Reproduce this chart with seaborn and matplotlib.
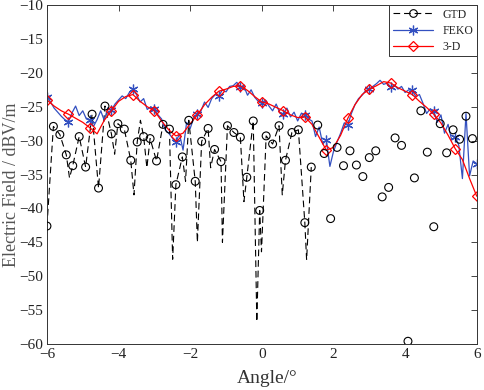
import numpy as np
import matplotlib.pyplot as plt
import seaborn as sns
from matplotlib.lines import Line2D

# GTD samples (circles), every 0.18 deg
gtd_x = np.round(np.arange(67) * 0.18 - 6, 2)
gtd_y = [-42.6, -27.9, -29.1, -32.1, -33.7, -29.4, -33.9, -26.1, -37.0, -24.9,
         -29.0, -27.5, -28.3, -32.9, -30.2, -29.4, -29.7, -33.0, -27.6, -28.3,
         -36.5, -32.4, -27.0, -36.0, -30.1, -28.2, -31.3, -33.1, -27.8, -28.8,
         -29.5, -35.4, -27.1, -40.3, -29.3, -30.5, -27.8, -32.9, -28.8, -28.4,
         -42.1, -33.9, -27.7, -31.9, -41.5, -31.0, -33.7, -31.5, -33.6, -35.3,
         -32.5, -31.5, -38.3, -36.9, -29.6, -30.7, -59.6, -35.5, -25.6, -31.7,
         -42.7, -27.5, -31.8, -28.4, -29.8, -26.4, -29.7]

# GTD dashed trace (only drawn up to ~1.4 deg), with the deep nulls
gtd_line_x = [-6.00, -5.82, -5.64, -5.46, -5.37, -5.28, -5.10, -4.92, -4.74, -4.56,
              -4.38, -4.20, -4.11, -4.02, -3.84, -3.66, -3.57, -3.48, -3.39, -3.30,
              -3.21, -3.12, -2.94, -2.76, -2.58, -2.49, -2.40, -2.22, -2.13, -2.04,
              -1.86, -1.80, -1.68, -1.50, -1.43, -1.32, -1.14, -1.10, -0.96, -0.78,
              -0.60, -0.50, -0.42, -0.24, -0.14, -0.06, -0.01, 0.12, 0.30, 0.48,
              0.57, 0.66, 0.84, 1.02, 1.20, 1.25, 1.38]
gtd_line_y = [-42.6, -27.9, -29.1, -32.1, -35.5, -33.7, -29.4, -33.9, -26.1, -37.0,
              -24.9, -29.0, -32.0, -27.5, -28.3, -32.9, -38.0, -30.2, -27.0, -29.4,
              -34.0, -29.7, -33.0, -27.6, -28.3, -47.5, -36.5, -32.4, -36.0, -27.0,
              -36.0, -45.0, -30.1, -28.2, -34.0, -31.3, -33.1, -45.0, -27.8, -28.8,
              -29.5, -39.0, -35.4, -27.1, -56.7, -40.3, -46.4, -29.3, -30.5, -27.8,
              -38.0, -32.9, -28.8, -28.4, -42.1, -47.6, -33.9]

# FEKO, every 0.1 deg
feko_x = np.round(np.arange(121) * 0.1 - 6, 1)
feko_y = [-23.5, -24.3, -25.2, -25.8, -26.4, -26.9, -27.2, -25.9, -24.9, -26.3,
          -25.6, -26.8, -27.0, -27.9, -26.9, -25.6, -27.0, -25.2, -25.5, -24.6,
          -24.0, -23.4, -23.8, -22.9, -22.4, -23.2, -24.3, -23.8, -25.4, -25.0,
          -25.4, -26.2, -26.8, -28.4, -28.9, -29.6, -30.2, -29.0, -31.4, -27.3,
          -28.2, -26.6, -26.0, -25.6, -24.3, -25.1, -23.8, -23.2, -23.4, -22.5,
          -22.8, -22.0, -21.9, -21.4, -22.1, -22.0, -23.3, -22.5, -23.6, -24.2,
          -24.5, -24.0, -24.9, -25.6, -24.6, -25.9, -26.1, -25.2, -26.5, -25.8,
          -27.1, -26.0, -26.2, -26.8, -27.1, -29.4, -28.0, -30.5, -29.9, -33.8,
          -31.6, -30.2, -28.9, -27.4, -27.7, -26.0, -24.7, -23.8, -23.3, -22.6,
          -22.4, -22.0, -21.6, -21.1, -21.7, -21.5, -22.1, -21.8, -22.4, -22.0,
          -22.9, -22.5, -22.6, -23.5, -23.2, -24.5, -26.0, -25.3, -25.7, -27.3,
          -26.2, -28.9, -27.6, -29.9, -29.4, -30.7, -35.6, -26.0, -35.2, -33.0,
          -33.4]

# 3-D model, every 0.2 deg
d3_x = np.round(np.arange(61) * 0.2 - 6, 1)
d3_y = [-24.0, -24.9, -25.6, -26.1, -26.7, -27.3, -28.1, -29.0, -27.0, -25.6,
        -24.2, -23.5, -23.2, -24.2, -25.0, -25.6, -27.1, -28.4, -29.3, -28.9,
        -27.5, -26.2, -24.7, -23.6, -22.7, -22.4, -22.0, -21.9, -22.6, -23.5,
        -24.3, -24.6, -25.1, -25.6, -26.2, -26.6, -26.5, -27.6, -29.5, -31.4,
        -31.0, -29.2, -26.7, -24.7, -23.2, -22.4, -21.9, -21.3, -21.5, -22.2,
        -22.7, -23.2, -24.2, -25.1, -26.1, -27.4, -29.2, -31.2, -32.8, -35.6,
        -38.2]

sns.set_style("white")
plt.rcParams["font.family"] = ["Liberation Serif", "DejaVu Serif"]

fig = plt.figure(figsize=(4.84, 3.9), dpi=100)
ax = fig.add_axes([0.097, 0.118, 0.888, 0.869])

blue = "#3350c0"
star = (6, 2, 0)

sns.lineplot(x=gtd_line_x, y=gtd_line_y, ax=ax, color="black", lw=0.8,
             linestyle=(0, (6, 3.5)), estimator=None, sort=False)
sns.scatterplot(x=gtd_x, y=gtd_y, ax=ax, marker="o", s=32, facecolor="none",
                edgecolor="black", linewidth=0.8, zorder=3)
sns.lineplot(x=feko_x, y=feko_y, ax=ax, color=blue, lw=0.9, marker=star,
             markevery=6, ms=7, mew=0.9, mec=blue, estimator=None, sort=False)
sns.lineplot(x=d3_x, y=d3_y, ax=ax, color="red", lw=0.9, marker="D",
             markevery=3, ms=5, mew=0.9, mfc="none", mec="red",
             estimator=None, sort=False)

ax.set_xlim(-6, 6)
ax.set_ylim(-60, -10)
ax.set_xticks(range(-6, 7, 2))
ax.set_yticks(range(-60, -9, 5))
ax.tick_params(direction="in", top=True, right=True, length=4, width=0.6,
               labelsize=11, pad=3, labelcolor="#222222")
for s in ax.spines.values():
    s.set_linewidth(0.7)
    s.set_color("#333333")

ax.set_xlabel("Angle/°", fontsize=14, color="#333333")
ax.set_ylabel("Electric Field / dBV/m", fontsize=13, color="#555555")
ax.xaxis.set_label_coords(0.512, -0.078)
ax.yaxis.set_label_coords(-0.062, 0.47)

handles = [
    Line2D([], [], color="black", lw=0.8, linestyle=(0, (6, 3.5)), marker="o",
           ms=5.5, mfc="none", mew=0.8),
    Line2D([], [], color=blue, lw=0.9, marker=star, ms=7, mew=0.9),
    Line2D([], [], color="red", lw=0.9, marker="D", ms=5, mfc="none", mew=0.9),
]
leg = ax.legend(handles, ["GTD", "FEKO", "3-D"], loc="upper right",
                borderaxespad=0, fancybox=False, framealpha=1,
                edgecolor="#333333", handlelength=3.4, handletextpad=0.8,
                labelspacing=0.35, borderpad=0.3,
                prop={"family": "Liberation Serif", "size": 8.5})
leg.get_frame().set_linewidth(0.7)

fig.savefig("out.png", dpi=100)
